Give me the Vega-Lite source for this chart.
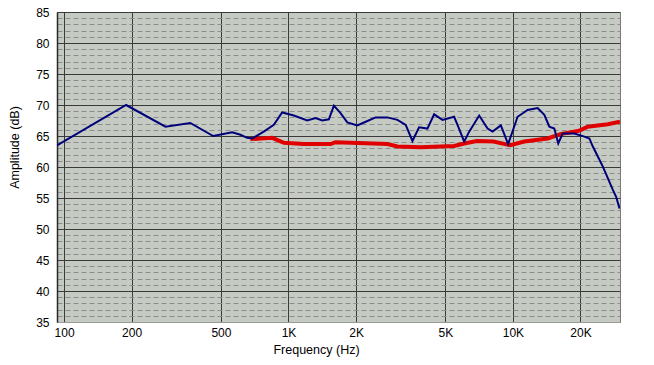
{
  "$schema": "https://vega.github.io/schema/vega-lite/v6.json",
  "width": 563,
  "height": 310,
  "autosize": {"type": "none"},
  "padding": {"left": 57, "top": 12, "right": 34, "bottom": 43},
  "background": "white",
  "config": {
    "view": {"fill": "#c5cbc3", "stroke": "#7a7a7a", "strokeWidth": 1},
    "font": "Liberation Sans"
  },
  "data": {
    "values": [
      {"series": "A", "freq": 93, "db": 63.5},
      {"series": "A", "freq": 189, "db": 70.0},
      {"series": "A", "freq": 283, "db": 66.5},
      {"series": "A", "freq": 365, "db": 67.1},
      {"series": "A", "freq": 462, "db": 65.0},
      {"series": "A", "freq": 561, "db": 65.6},
      {"series": "A", "freq": 611, "db": 65.2},
      {"series": "A", "freq": 654, "db": 64.7},
      {"series": "A", "freq": 689, "db": 64.6},
      {"series": "A", "freq": 776, "db": 65.7},
      {"series": "A", "freq": 860, "db": 66.8},
      {"series": "A", "freq": 937, "db": 68.8},
      {"series": "A", "freq": 1056, "db": 68.3},
      {"series": "A", "freq": 1212, "db": 67.5},
      {"series": "A", "freq": 1320, "db": 67.9},
      {"series": "A", "freq": 1414, "db": 67.5},
      {"series": "A", "freq": 1513, "db": 67.7},
      {"series": "A", "freq": 1593, "db": 69.9},
      {"series": "A", "freq": 1706, "db": 68.7},
      {"series": "A", "freq": 1828, "db": 67.2},
      {"series": "A", "freq": 2026, "db": 66.7},
      {"series": "A", "freq": 2208, "db": 67.3},
      {"series": "A", "freq": 2445, "db": 68.0},
      {"series": "A", "freq": 2758, "db": 68.0},
      {"series": "A", "freq": 3058, "db": 67.6},
      {"series": "A", "freq": 3329, "db": 66.8},
      {"series": "A", "freq": 3567, "db": 64.2},
      {"series": "A", "freq": 3818, "db": 66.4},
      {"series": "A", "freq": 4160, "db": 66.2},
      {"series": "A", "freq": 4455, "db": 68.5},
      {"series": "A", "freq": 4855, "db": 67.6},
      {"series": "A", "freq": 5470, "db": 68.1},
      {"series": "A", "freq": 5663, "db": 66.8},
      {"series": "A", "freq": 6064, "db": 64.1},
      {"series": "A", "freq": 6385, "db": 65.7},
      {"series": "A", "freq": 7075, "db": 68.3},
      {"series": "A", "freq": 7710, "db": 66.2},
      {"series": "A", "freq": 8115, "db": 65.7},
      {"series": "A", "freq": 8835, "db": 66.7},
      {"series": "A", "freq": 9520, "db": 63.7},
      {"series": "A", "freq": 10490, "db": 68.1},
      {"series": "A", "freq": 11630, "db": 69.2},
      {"series": "A", "freq": 12890, "db": 69.5},
      {"series": "A", "freq": 13800, "db": 68.4},
      {"series": "A", "freq": 14530, "db": 66.5},
      {"series": "A", "freq": 15290, "db": 66.2},
      {"series": "A", "freq": 15920, "db": 63.8},
      {"series": "A", "freq": 16660, "db": 65.4},
      {"series": "A", "freq": 18770, "db": 65.4},
      {"series": "A", "freq": 20810, "db": 64.9},
      {"series": "A", "freq": 21920, "db": 64.6},
      {"series": "A", "freq": 22700, "db": 63.3},
      {"series": "A", "freq": 23900, "db": 61.7},
      {"series": "A", "freq": 25130, "db": 60.1},
      {"series": "A", "freq": 26480, "db": 58.2},
      {"series": "A", "freq": 27880, "db": 56.3},
      {"series": "A", "freq": 28830, "db": 55.2},
      {"series": "A", "freq": 29860, "db": 53.3},
      {"series": "B", "freq": 676, "db": 64.5},
      {"series": "B", "freq": 846, "db": 64.7},
      {"series": "B", "freq": 954, "db": 63.9},
      {"series": "B", "freq": 1170, "db": 63.7},
      {"series": "B", "freq": 1540, "db": 63.7},
      {"series": "B", "freq": 1620, "db": 64.0},
      {"series": "B", "freq": 2390, "db": 63.8},
      {"series": "B", "freq": 2758, "db": 63.7},
      {"series": "B", "freq": 3058, "db": 63.3},
      {"series": "B", "freq": 3882, "db": 63.2},
      {"series": "B", "freq": 5470, "db": 63.4},
      {"series": "B", "freq": 6064, "db": 63.8},
      {"series": "B", "freq": 6900, "db": 64.2},
      {"series": "B", "freq": 8200, "db": 64.1},
      {"series": "B", "freq": 9720, "db": 63.5},
      {"series": "B", "freq": 11240, "db": 64.1},
      {"series": "B", "freq": 14290, "db": 64.6},
      {"series": "B", "freq": 16290, "db": 65.3},
      {"series": "B", "freq": 19440, "db": 65.8},
      {"series": "B", "freq": 20140, "db": 66.0},
      {"series": "B", "freq": 21540, "db": 66.5},
      {"series": "B", "freq": 26480, "db": 66.9},
      {"series": "B", "freq": 30000, "db": 67.3}
    ]
  },
  "encoding": {
    "x": {
      "field": "freq",
      "type": "quantitative",
      "scale": {"type": "log", "domain": [93, 30000], "nice": false},
      "axis": {
        "values": [100, 200, 500, 1000, 2000, 5000, 10000, 20000],
        "labelExpr": "datum.value >= 1000 ? (datum.value / 1000) + 'K' : datum.label",
        "ticks": false,
        "grid": true,
        "gridColor": "#3a3a3a",
        "gridOpacity": 1,
        "gridWidth": 1,
        "domainColor": "#9a9a9a",
        "labelFont": "Liberation Sans",
        "labelFontSize": 12,
        "labelColor": "#000000",
        "labelPadding": 5,
        "labelFlush": false,
        "labelOverlap": false,
        "labelBound": false,
        "title": "Frequency (Hz)",
        "titleFont": "Liberation Sans",
        "titleFontSize": 12.5,
        "titleFontWeight": "normal",
        "titleColor": "#000000",
        "titleX": 259,
        "titleY": 21,
        "titleAlign": "center",
        "titleBaseline": "top"
      }
    },
    "y": {
      "field": "db",
      "type": "quantitative",
      "scale": {"domain": [35, 85], "nice": false, "zero": false},
      "axis": {
        "values": [35,36,37,38,39,40,41,42,43,44,45,46,47,48,49,50,51,52,53,54,55,56,57,58,59,60,61,62,63,64,65,66,67,68,69,70,71,72,73,74,75,76,77,78,79,80,81,82,83,84,85],
        "labelExpr": "datum.value % 5 === 0 ? datum.label : ''",
        "ticks": false,
        "grid": true,
        "gridColor": {"condition": {"test": "datum.value % 5 === 0", "value": "#3a3a3a"}, "value": "#8c8c8c"},
        "gridDash": {"condition": {"test": "datum.value % 5 === 0", "value": []}, "value": [5, 3]},
        "gridOpacity": 1,
        "gridWidth": 1,
        "domainColor": "#2a2a2a",
        "domainWidth": 1.5,
        "labelFont": "Liberation Sans",
        "labelFontSize": 12,
        "labelColor": "#000000",
        "labelPadding": 8,
        "labelOverlap": false,
        "labelFlush": false,
        "labelBound": false,
        "title": "Amplitude (dB)",
        "titleFont": "Liberation Sans",
        "titleFontSize": 12.5,
        "titleFontWeight": "normal",
        "titleColor": "#000000",
        "titleAngle": 270,
        "titleX": -43,
        "titleY": 135,
        "titleAlign": "center",
        "titleBaseline": "middle"
      }
    }
  },
  "layer": [
    {
      "transform": [{"filter": "datum.series === 'B'"}],
      "mark": {"type": "line", "color": "#e00000", "strokeWidth": 4, "clip": true}
    },
    {
      "transform": [{"filter": "datum.series === 'A'"}],
      "mark": {"type": "line", "color": "#00007a", "strokeWidth": 2, "clip": true}
    }
  ]
}
